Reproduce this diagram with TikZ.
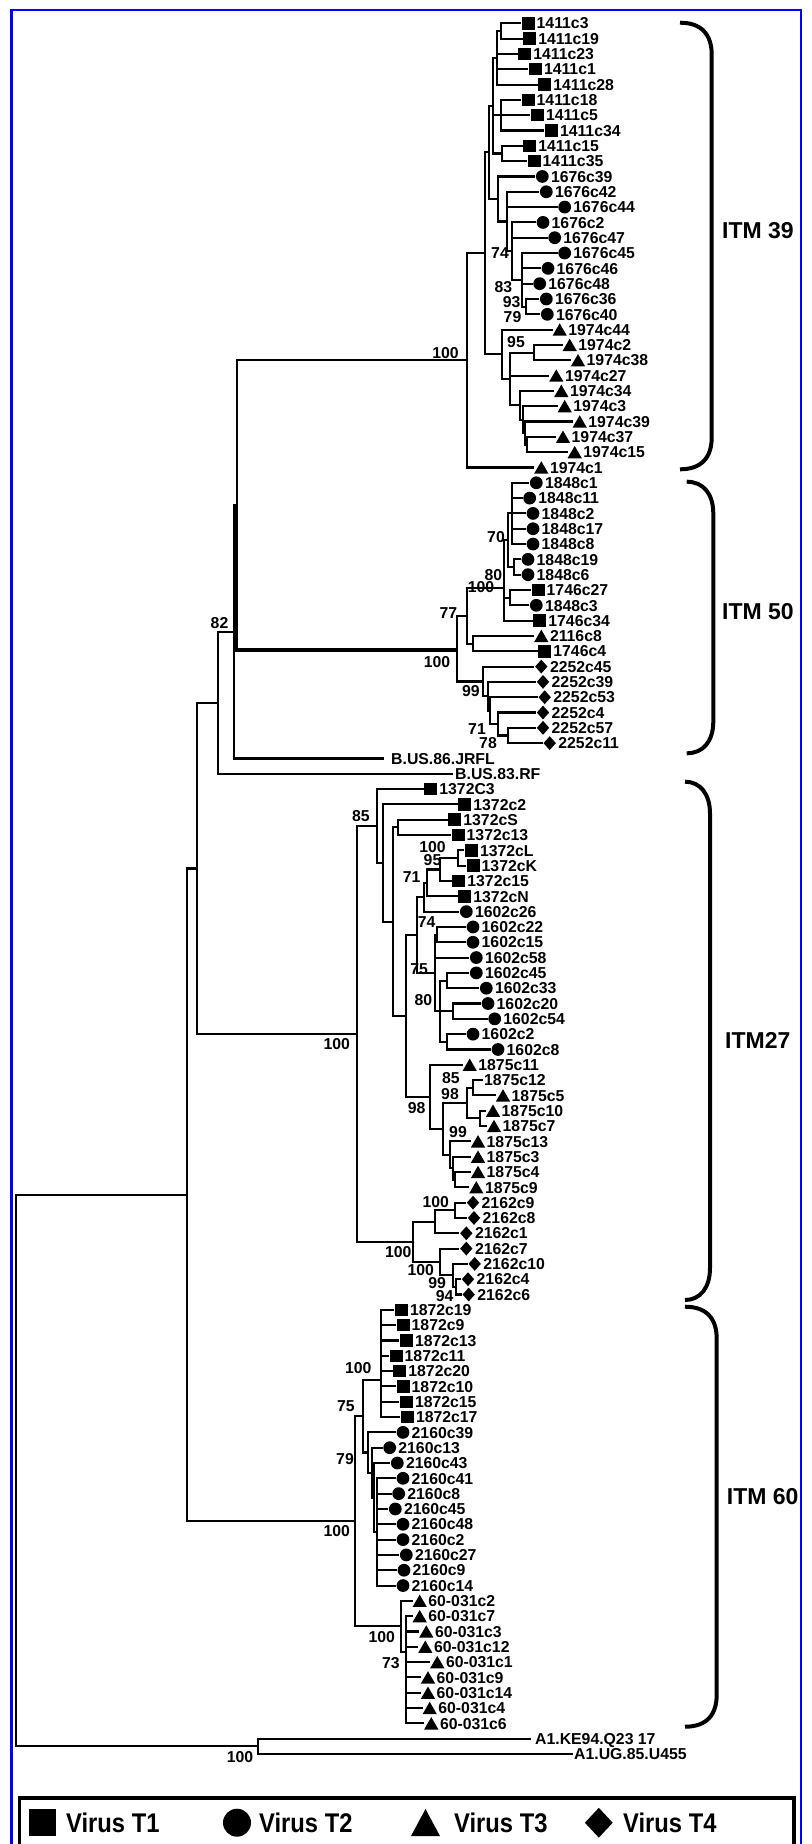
\documentclass[tikz,border=0pt]{standalone}
\usepackage{fontspec}
\setmainfont{Liberation Sans}
\newfontfamily\legf[FakeStretch=0.88]{Liberation Sans}
\usetikzlibrary{shapes.geometric}
\newcommand\lf[5]{%
  \pgfmathsetmacro\yy{23.3+15.316*#1}%
  \draw[br] (#2,\yy) -- (#3,\yy);%
  \node[sym#4] (S#1) at (#3+8,\yy) {};%
  \node[lbl] (L#1) at (#3+16.5,\yy+5.7) {#5};%
}
\newcommand\lfn[5]{%
  \pgfmathsetmacro\yy{23.3+15.316*#1}%
  \draw[br] (#2,\yy) -- (#3,\yy);%
  \node[lbl] (L#1) at (#4,\yy+5.7) {#5};%
}
\newcommand\nd[5]{%
  \draw[br] (#1,#2) -- (#1,#3);%
  \draw[br] (#4,#5) -- (#1,#5);%
}
\newcommand\bs[4]{\node[bsl] (#1) at (#2,#3) {#4};}
\newcommand\brc[5]{%
  \draw[brace] (#2,#3) .. controls (#4-10,#3) and (#4,#3+12) .. (#4,#3+32) -- (#4,#5-32) .. controls (#4,#5-12) and (#4-10,#5) .. (#2,#5);%
}
\begin{document}
\begin{tikzpicture}[x=1pt,y=-1pt,
  br/.style={line width=2.1pt,line cap=rect},
  thk/.style={line width=3.4pt,line cap=rect},
  lbl/.style={anchor=base west,inner sep=0pt,font=\bfseries\fontsize{15.8}{15.8}\selectfont},
  bsl/.style={anchor=center,inner sep=0pt,font=\bfseries\fontsize{15.8}{15.8}\selectfont},
  symq/.style={rectangle,fill=black,minimum width=13pt,minimum height=12.5pt,inner sep=0pt},
  symc/.style={circle,fill=black,minimum size=12.8pt,inner sep=0pt},
  symt/.style={regular polygon,regular polygon sides=3,fill=black,minimum size=16.5pt,inner sep=0pt,yshift=-2pt},
  symd/.style={diamond,fill=black,minimum width=12.5pt,minimum height=14pt,inner sep=0pt},
  symn/.style={inner sep=0pt,minimum size=0pt},
  brace/.style={line width=4pt},
  itm/.style={anchor=base west,inner sep=0pt,font=\bfseries\fontsize{23}{23}\selectfont},
  leg/.style={anchor=base west,inner sep=0pt,font=\legf\bfseries\fontsize{27}{27}\selectfont},
]
\fill[white] (0,0) rectangle (811,1844);
\useasboundingbox (0,0) rectangle (811,1844);
\draw[blue,line width=2.6pt] (11.7,10) rectangle (801,1870);

% ---------- deep structure ----------
\draw[br] (16,1194.9) -- (16,1746.3);
\nd{186.7}{868.5}{1521.3}{16}{1194.9}
\nd{197.3}{702.9}{1034}{186.7}{868.5}
\nd{217.7}{631.9}{773.8}{197.3}{702.9}
\nd{234.3}{505.2}{758.5}{217.7}{631.9}
\draw[br] (236.7,360.4) -- (236.7,650);
\draw[thk] (236.7,505.2) -- (236.7,650);
\nd{467.3}{253.3}{467.5}{236.7}{360.4}
\draw[br] (456.7,615.8) -- (456.7,681.5);
\draw[thk] (236.7,650) -- (456.7,650);
\nd{357.3}{826.1}{1241.9}{197.3}{1034}
\nd{355}{1416.2}{1626.4}{186.7}{1521.3}
\nd{257.7}{1738.7}{1754}{16}{1746.3}

% ---------- ITM 39 ----------
\nd{501}{23.3}{38.6}{496.7}{31}
\nd{496.7}{31}{84.6}{493.3}{57.8}
\nd{501}{99.9}{130.5}{493.3}{115.2}
\nd{501.7}{145.8}{161.1}{493.3}{153.5}
\nd{493.3}{57.8}{153.5}{489.3}{105.6}
\nd{526}{299}{314.3}{521.7}{306.7}
\nd{521.7}{253}{306.7}{511.7}{279.9}
\nd{511.7}{222.4}{279.9}{506.7}{251.2}
\nd{506.7}{191.8}{251.2}{498.3}{221.5}
\nd{498.3}{176.5}{221.5}{489.3}{199}
\nd{489.3}{105.6}{199}{485}{152.3}
\nd{534.3}{344.9}{360.3}{510}{352.6}
\nd{526.7}{436.8}{452.1}{525}{444.5}
\nd{525}{421.5}{444.5}{523.3}{433}
\nd{523.3}{406.2}{433}{520}{419.6}
\nd{520}{390.9}{419.6}{510}{405.3}
\nd{510}{352.6}{405.3}{501.7}{379}
\nd{501.7}{329.6}{379}{485}{354.3}
\nd{485}{152.3}{354.3}{467.3}{253.3}
\lf{0}{501}{520}{q}{1411c3}
\lf{1}{501}{521.7}{q}{1411c19}
\lf{2}{496.7}{516.7}{q}{1411c23}
\lf{3}{496.7}{527.3}{q}{1411c1}
\lf{4}{496.7}{536.7}{q}{1411c28}
\lf{5}{501}{520}{q}{1411c18}
\lf{6}{501}{529.3}{q}{1411c5}
\lf{7}{501}{543.3}{q}{1411c34}
\lf{8}{501.7}{521.7}{q}{1411c15}
\lf{9}{501.7}{526}{q}{1411c35}
\lf{10}{498.3}{534.3}{c}{1676c39}
\lf{11}{506.7}{538.3}{c}{1676c42}
\lf{12}{506.7}{556.7}{c}{1676c44}
\lf{13}{511.7}{535}{c}{1676c2}
\lf{14}{511.7}{546.7}{c}{1676c47}
\lf{15}{521.7}{556.7}{c}{1676c45}
\lf{16}{521.7}{540}{c}{1676c46}
\lf{17}{521.7}{531.7}{c}{1676c48}
\lf{18}{526}{538.3}{c}{1676c36}
\lf{19}{526}{539.3}{c}{1676c40}
\lf{20}{501.7}{551.7}{t}{1974c44}
\lf{21}{534.3}{561.7}{t}{1974c2}
\lf{22}{534.3}{570}{t}{1974c38}
\lf{23}{510}{548.3}{t}{1974c27}
\lf{24}{520}{553.3}{t}{1974c34}
\lf{25}{523.3}{556.7}{t}{1974c3}
\lf{26}{525}{571.7}{t}{1974c39}
\lf{27}{526.7}{555}{t}{1974c37}
\lf{28}{526.7}{566.7}{t}{1974c15}
\lf{29}{467.3}{533.3}{t}{1974c1}

% ---------- ITM 50 ----------
\nd{511.7}{482.8}{544}{508.3}{513.4}
\nd{514}{559.4}{574.7}{508.3}{567}
\nd{508.3}{513.4}{567}{504}{540.2}
\nd{510}{590}{605.3}{504}{597.7}
\nd{504}{540.2}{620.6}{466.7}{588}
\nd{473.3}{635.9}{651.3}{466.7}{643.6}
\nd{466.7}{588}{643.6}{456.7}{615.8}
\nd{508.3}{727.8}{743.1}{498.3}{735.5}
\nd{498.3}{712.5}{735.5}{490}{724}
\nd{490}{697.2}{724}{488.3}{710.6}
\nd{488.3}{681.9}{710.6}{483.3}{696.3}
\nd{483.3}{666.6}{696.3}{456.7}{681.5}
\lf{30}{511.7}{528.3}{c}{1848c1}
\lf{31}{511.7}{521.7}{c}{1848c11}
\lf{32}{511.7}{525}{c}{1848c2}
\lf{33}{511.7}{525}{c}{1848c17}
\lf{34}{511.7}{525}{c}{1848c8}
\lf{35}{514}{520}{c}{1848c19}
\lf{36}{514}{520}{c}{1848c6}
\lf{37}{510}{530}{q}{1746c27}
\lf{38}{510}{528.3}{c}{1848c3}
\lf{39}{504}{531.7}{q}{1746c34}
\lf{40}{473.3}{533.3}{t}{2116c8}
\lf{41}{473.3}{536.7}{q}{1746c4}
\lf{42}{483.3}{533.3}{d}{2252c45}
\lf{43}{488.3}{535}{d}{2252c39}
\lf{44}{490}{536.7}{d}{2252c53}
\lf{45}{498.3}{535}{d}{2252c4}
\lf{46}{508.3}{535}{d}{2252c57}
\lf{47}{508.3}{541.7}{d}{2252c11}
\lfn{48}{234.3}{383.2}{391}{B.US.86.JRFL}
\lfn{49}{217.7}{452}{455}{B.US.83.RF}

% ---------- ITM 27 ----------
\nd{458.3}{850.3}{865.7}{440}{858}
\nd{440}{858}{881}{426.7}{869.5}
\nd{426.7}{869.5}{896.3}{424}{882.9}
\nd{424}{882.9}{911.6}{416.7}{897.3}
\nd{436.7}{926.9}{942.3}{435}{934.6}
\nd{446.7}{972.9}{988.2}{440}{980.6}
\nd{453.3}{1003.5}{1018.8}{440}{1011.2}
\nd{446.7}{1034.2}{1049.5}{440}{1041.9}
\nd{440}{980.6}{1041.9}{435}{1011.2}
\nd{435}{934.6}{1011.2}{416.7}{972.9}
\nd{416.7}{897.3}{972.9}{406}{935.1}
\nd{473.3}{1080.1}{1095.4}{466.7}{1087.8}
\nd{480}{1110.7}{1126.1}{466.7}{1118.4}
\nd{466.7}{1087.8}{1118.4}{443.3}{1103.1}
\nd{455}{1172}{1187.3}{453.3}{1179.7}
\nd{453.3}{1156.7}{1179.7}{450}{1168.2}
\nd{450}{1141.4}{1168.2}{443.3}{1154.8}
\nd{443.3}{1103.1}{1154.8}{430}{1129}
\nd{430}{1064.8}{1129}{406}{1096.9}
\nd{406}{935.1}{1096.9}{393.3}{1016}
\nd{398.3}{819.7}{835}{393.3}{827.4}
\nd{393.3}{827.4}{1016}{383.3}{921.7}
\nd{383.3}{804.4}{921.7}{376.7}{863.1}
\nd{376.7}{789.1}{863.1}{357.3}{826.1}
\nd{455}{1202.6}{1218}{435}{1210.3}
\nd{435}{1210.3}{1233.3}{413.3}{1221.8}
\nd{456}{1279.2}{1294.5}{453.3}{1286.9}
\nd{453.3}{1263.9}{1286.9}{440}{1275.4}
\nd{440}{1248.6}{1275.4}{413.3}{1262}
\nd{413.3}{1221.8}{1262}{357.3}{1241.9}
\lf{50}{376.7}{422.7}{q}{1372C3}
\lf{51}{383.3}{456.7}{q}{1372c2}
\lf{52}{398.3}{446.7}{q}{1372cS}
\lf{53}{398.3}{450}{q}{1372c13}
\lf{54}{458.3}{463.3}{q}{1372cL}
\lf{55}{458.3}{465}{q}{1372cK}
\lf{56}{440}{450.7}{q}{1372c15}
\lf{57}{426.7}{456.7}{q}{1372cN}
\lf{58}{424}{458.3}{c}{1602c26}
\lf{59}{436.7}{465}{c}{1602c22}
\lf{60}{436.7}{465}{c}{1602c15}
\lf{61}{435}{468.3}{c}{1602c58}
\lf{62}{446.7}{468.3}{c}{1602c45}
\lf{63}{446.7}{478.3}{c}{1602c33}
\lf{64}{453.3}{480}{c}{1602c20}
\lf{65}{453.3}{486.7}{c}{1602c54}
\lf{66}{446.7}{465}{c}{1602c2}
\lf{67}{446.7}{490}{c}{1602c8}
\lf{68}{430}{461.7}{t}{1875c11}
\lfn{69}{473.3}{481.7}{484}{1875c12}
\lf{70}{473.3}{495}{t}{1875c5}
\lf{71}{480}{485}{t}{1875c10}
\lf{72}{480}{486}{t}{1875c7}
\lf{73}{450}{470}{t}{1875c13}
\lf{74}{453.3}{470}{t}{1875c3}
\lf{75}{455}{470}{t}{1875c4}
\lf{76}{455}{468.3}{t}{1875c9}
\lf{77}{455}{465}{d}{2162c9}
\lf{78}{455}{466}{d}{2162c8}
\lf{79}{435}{458.3}{d}{2162c1}
\lf{80}{440}{458.3}{d}{2162c7}
\lf{81}{453.3}{466.7}{d}{2162c10}
\lf{82}{456}{460}{d}{2162c4}
\lf{83}{456}{460.7}{d}{2162c6}

% ---------- ITM 60 ----------
\nd{381}{1309.8}{1417.1}{363.3}{1380}
\nd{376.7}{1478.3}{1585.5}{374.3}{1531.9}
\nd{374.3}{1463}{1531.9}{371.7}{1497.5}
\nd{371.7}{1447.7}{1497.5}{368.3}{1472.6}
\nd{368.3}{1432.4}{1472.6}{363.3}{1452.5}
\nd{363.3}{1380}{1452.5}{355}{1416.2}
\nd{406.3}{1616.2}{1723.4}{401}{1652}
\nd{401}{1600.8}{1652}{355}{1626.4}
\lf{84}{381}{393.3}{q}{1872c19}
\lf{85}{381}{395}{q}{1872c9}
\lf{86}{381}{398.3}{q}{1872c13}
\lf{87}{381}{388}{q}{1872c11}
\lf{88}{381}{391.7}{q}{1872c20}
\lf{89}{381}{395}{q}{1872c10}
\lf{90}{381}{398.3}{q}{1872c15}
\lf{91}{381}{399.3}{q}{1872c17}
\lf{92}{368.3}{395}{c}{2160c39}
\lf{93}{371.7}{381.7}{c}{2160c13}
\lf{94}{374.3}{389.3}{c}{2160c43}
\lf{95}{376.7}{395}{c}{2160c41}
\lf{96}{376.7}{390.7}{c}{2160c8}
\lf{97}{376.7}{387.3}{c}{2160c45}
\lf{98}{376.7}{395}{c}{2160c48}
\lf{99}{376.7}{395}{c}{2160c2}
\lf{100}{376.7}{398.3}{c}{2160c27}
\lf{101}{376.7}{396}{c}{2160c9}
\lf{102}{376.7}{395}{c}{2160c14}
\lf{103}{401}{411.7}{t}{60-031c2}
\lf{104}{406.3}{411.7}{t}{60-031c7}
\lf{105}{406.3}{418.3}{t}{60-031c3}
\lf{106}{406.3}{417.3}{t}{60-031c12}
\lf{107}{406.3}{429.3}{t}{60-031c1}
\lf{108}{406.3}{420}{t}{60-031c9}
\lf{109}{406.3}{420}{t}{60-031c14}
\lf{110}{406.3}{421.7}{t}{60-031c4}
\lf{111}{406.3}{423.3}{t}{60-031c6}
\lfn{112}{257.7}{530}{535}{A1.KE94.Q23 17}
\lfn{113}{257.7}{571.6}{574}{A1.UG.85.U455}

% ---------- bootstrap values ----------
\bs{b1}{445.5}{353}{100}
\bs{b2}{516}{341.7}{95}
\bs{b3}{500}{253.3}{74}
\bs{b4}{503.3}{286.7}{83}
\bs{b5}{511.7}{301.7}{93}
\bs{b6}{512.5}{317.3}{79}
\bs{b7}{219.5}{622.7}{82}
\bs{b8}{437}{662}{100}
\bs{b9}{448.3}{612.7}{77}
\bs{b10}{481}{587.3}{100}
\bs{b11}{493.3}{575}{80}
\bs{b12}{496}{537.3}{70}
\bs{b13}{470.8}{691}{99}
\bs{b14}{477}{729.3}{71}
\bs{b15}{488}{743.3}{78}
\bs{b16}{360.8}{816}{85}
\bs{b17}{336.7}{1044.3}{100}
\bs{b18}{432.5}{846.7}{100}
\bs{b19}{432.5}{860}{95}
\bs{b20}{411.7}{876.7}{71}
\bs{b21}{426.7}{921.7}{74}
\bs{b22}{419.2}{969.3}{75}
\bs{b23}{423.3}{1000}{80}
\bs{b24}{450.8}{1078.3}{85}
\bs{b25}{450}{1094.3}{98}
\bs{b26}{416.7}{1108.3}{98}
\bs{b27}{458}{1131.7}{99}
\bs{b28}{435.8}{1202.3}{100}
\bs{b29}{398.3}{1251.7}{100}
\bs{b30}{420.8}{1270}{100}
\bs{b31}{437.2}{1283.3}{99}
\bs{b32}{444.7}{1296}{94}
\bs{b33}{358.3}{1368.3}{100}
\bs{b34}{345.8}{1406}{75}
\bs{b35}{345}{1459.3}{79}
\bs{b36}{336.7}{1530.6}{100}
\bs{b37}{381.7}{1636.7}{100}
\bs{b38}{390.8}{1663.3}{73}
\bs{b39}{240}{1757}{100}

% ---------- braces and clade names ----------
\brc{c39}{680}{22.7}{711.7}{469.3}
\brc{c50}{686.7}{481.7}{713.3}{753.3}
\brc{c27}{685}{781.7}{710}{1300}
\brc{c60}{685}{1306.7}{716.7}{1726.7}
\node[itm] (T39) at (722,238.7) {ITM 39};
\node[itm] (T50) at (722,619.9) {ITM 50};
\node[itm] (T27) at (725,1048.2) {ITM27};
\node[itm] (T60) at (726.7,1504.9) {ITM 60};

% ---------- legend ----------
\draw[line width=3.5pt] (19.7,1798) rectangle (794,1870);
\node[fill=black,minimum size=26.5pt,inner sep=0pt] (G1) at (42.7,1822.7) {};
\node[leg] (V1) at (66,1832.7) {Virus T1};
\node[circle,fill=black,minimum size=28pt,inner sep=0pt] (G2) at (237,1822.7) {};
\node[leg] (V2) at (259,1832.7) {Virus T2};
\fill (411,1836) -- (425.5,1809) -- (440,1836) -- cycle;
\node[leg] (V3) at (454,1832.7) {Virus T3};
\node[diamond,fill=black,minimum width=28pt,minimum height=30pt,inner sep=0pt] (G4) at (598.8,1822.7) {};
\node[leg] (V4) at (623,1832.7) {Virus T4};
\end{tikzpicture}
\end{document}
